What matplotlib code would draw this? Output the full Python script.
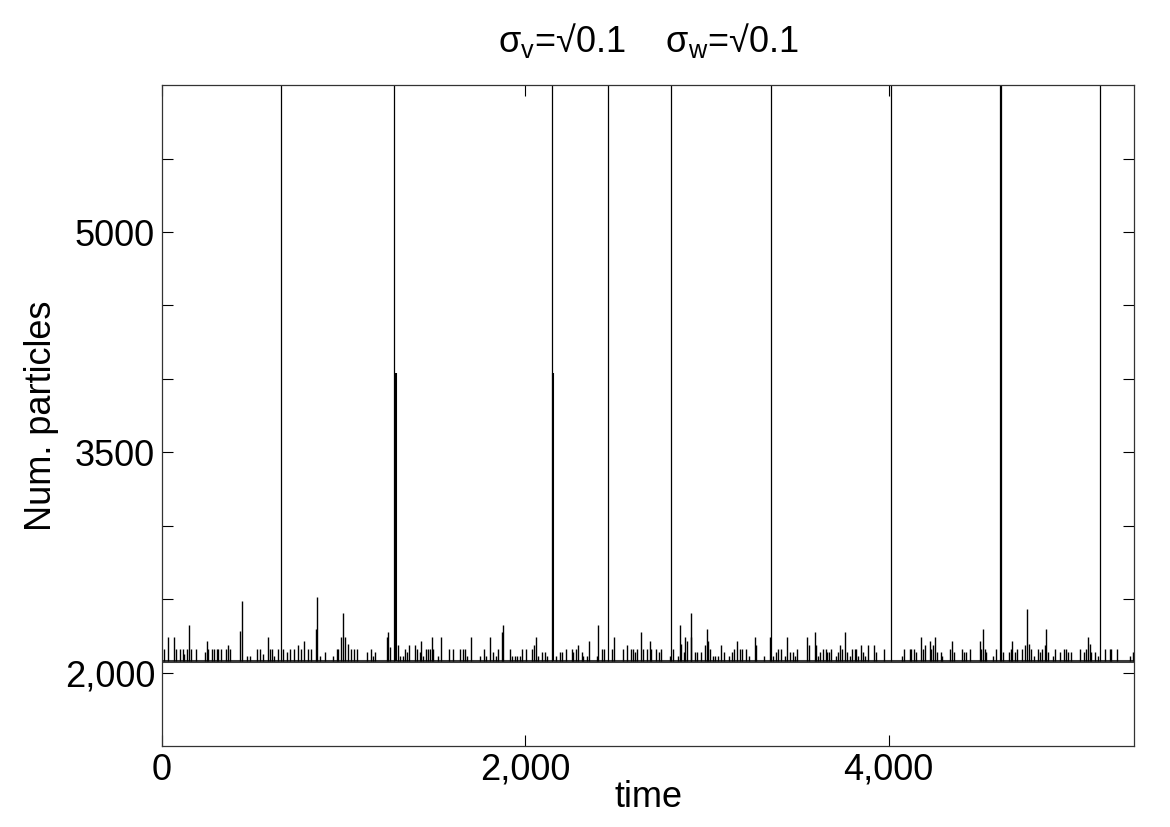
import numpy as np
import matplotlib
matplotlib.use("Agg")
import matplotlib.pyplot as plt

plt.rcParams['font.family'] = ['Liberation Sans', 'DejaVu Sans']
plt.rcParams['mathtext.fontset'] = 'custom'
plt.rcParams['mathtext.rm'] = 'Liberation Sans'
plt.rcParams['mathtext.it'] = 'Liberation Sans'

# Data
baseline = 2080
tall_times = [653, 1278, 2148, 2456, 2804, 3351, 4015, 4613, 4618, 5165]
tall_value = 6500   # clipped above the top of the axes
mid_times = [1286, 2153]
mid_values = [4040, 4040]

spike_times = [
    13, 31, 68, 75, 97, 116, 123, 138, 150, 160, 185, 237, 246, 255, 273, 288,
    301, 310, 325, 350, 361, 374, 429, 442, 466, 484, 521, 539, 558, 581, 594,
    607, 616, 636, 668, 686, 704, 728, 746, 763, 781, 805, 820, 845, 853, 869,
    897, 943, 961, 970, 985, 994, 1007, 1025, 1040, 1058,
    1075, 1126, 1148, 1159, 1172, 1236, 1245, 1254, 1300, 1310, 1324, 1337,
    1346, 1359, 1392, 1401, 1420, 1425, 1438, 1453, 1465, 1475, 1486, 1493,
    1520, 1533, 1581, 1603, 1640, 1654, 1667, 1680, 1698, 1750, 1772, 1783,
    1808, 1823, 1836, 1850, 1869, 1878, 1915, 1929, 1944, 1955, 1970, 1981,
    2006, 2034, 2047, 2061, 2071, 2094, 2107, 2120,
    2166, 2190, 2199, 2226, 2254, 2263, 2276, 2287, 2309, 2318, 2337, 2351,
    2392, 2401, 2423, 2434, 2478, 2487, 2538, 2562, 2580, 2593, 2606, 2612,
    2635, 2648, 2667, 2685, 2694, 2718, 2735, 2745, 2795, 2813, 2841, 2850,
    2859, 2874, 2881, 2892, 2909, 2914, 2933, 2945, 2969, 2988, 2997, 3006,
    3019, 3033, 3046, 3061, 3076, 3092, 3120, 3138, 3149, 3167, 3180, 3193,
    3213, 3232, 3263, 3272, 3312, 3345, 3364, 3382, 3391, 3409, 3428, 3442,
    3455, 3474, 3483, 3497, 3552, 3562, 3593, 3598, 3611, 3624, 3639, 3653,
    3661, 3672, 3685, 3708, 3721, 3734, 3745, 3758, 3771, 3785, 3800, 3813,
    3822, 3831, 3850, 3859, 3868, 3886, 3919, 3928, 3972, 4075, 4082, 4115,
    4125, 4138, 4152, 4180, 4189, 4198, 4226, 4235, 4244, 4253, 4266,
    4286, 4293, 4336, 4348, 4359, 4403, 4414, 4427, 4446, 4501, 4510, 4519,
    4528, 4537, 4574, 4592, 4629, 4660, 4671, 4679, 4693, 4708, 4734, 4748,
    4759, 4770, 4785, 4800, 4822, 4831, 4844, 4858, 4867, 4877, 4904, 4917,
    4941, 4965, 4977, 4987, 5005, 5053, 5075, 5088, 5097, 5106, 5115, 5133,
    5152, 5188, 5216, 5225, 5258, 5326, 5344,
]
spike_values = [
    2161, 2240, 2240, 2161, 2161, 2161, 2127, 2161, 2324, 2161, 2161, 2139, 2217, 2161, 2161, 2161,
    2161, 2161, 2161, 2161, 2188, 2161, 2285, 2489, 2115, 2115, 2161, 2161, 2127, 2240, 2161,
    2161, 2115, 2161, 2161, 2139, 2161, 2161, 2188, 2161, 2217, 2161, 2161, 2296, 2512, 2115,
    2139, 2115, 2161, 2161, 2240, 2405, 2240, 2195, 2161, 2161,
    2161, 2139, 2161, 2115, 2139, 2240, 2274, 2172, 2188, 2115, 2115, 2161,
    2139, 2188, 2188, 2161, 2139, 2217, 2115, 2161, 2161, 2161, 2240, 2161,
    2115, 2240, 2161, 2161, 2161, 2161, 2161, 2115, 2240, 2115, 2161, 2115,
    2240, 2139, 2115, 2161, 2274, 2324, 2161, 2115, 2115, 2115, 2115, 2161,
    2161, 2161, 2188, 2240, 2115, 2139, 2139, 2115,
    2115, 2139, 2139, 2161, 2161, 2139, 2161, 2188, 2139, 2115, 2115, 2217,
    2115, 2324, 2161, 2161, 2161, 2240, 2161, 2188, 2161, 2161, 2139, 2161,
    2274, 2161, 2161, 2217, 2161, 2161, 2139, 2161, 2115, 2161, 2115, 2324,
    2195, 2139, 2240, 2217, 2240, 2405, 2139, 2139, 2139, 2188, 2296, 2217,
    2161, 2115, 2115, 2115, 2188, 2139, 2115, 2139, 2161, 2217, 2161, 2161,
    2161, 2115, 2240, 2188, 2115, 2240, 2115, 2139, 2161, 2161, 2115, 2240,
    2139, 2139, 2115, 2161, 2240, 2188, 2274, 2188, 2115, 2139, 2161, 2161,
    2139, 2139, 2161, 2115, 2139, 2188, 2161, 2274, 2139, 2115, 2161, 2161,
    2161, 2115, 2188, 2139, 2115, 2188, 2188, 2139, 2161, 2115, 2161, 2161,
    2161, 2161, 2139, 2240, 2161, 2188, 2217, 2161, 2188, 2240, 2139,
    2139, 2115, 2161, 2217, 2139, 2161, 2139, 2139, 2161, 2217, 2161, 2296,
    2161, 2139, 2115, 2161, 2139, 2139, 2161, 2217, 2139, 2161, 2161, 2188,
    2432, 2195, 2161, 2115, 2161, 2139, 2161, 2188, 2296, 2139, 2115, 2161,
    2139, 2161, 2161, 2139, 2139, 2161, 2139, 2161, 2240, 2195, 2139, 2139,
    2115, 2161, 2161, 2161, 2161, 2115, 2139,
]

ytick_values = [2000, 2500, 3000, 3500, 4000, 4500, 5000, 5500]
ytick_labels = ['2,000', '', '', '3500', '', '', '5000', '']
xtick_values = [0, 2000, 4000]
xtick_labels = ['0', '2,000', '4,000']

fig = plt.figure(figsize=(11.7, 8.27), dpi=100)
ax = fig.add_axes([0.1385, 0.098, 0.9692 - 0.1385, 0.897 - 0.098])

ax.hlines(baseline, 0, 5350, color='#3a3a3a', lw=2.2)
ax.vlines(spike_times, baseline, spike_values, color='k', lw=1.0)
ax.vlines(mid_times, baseline, mid_values, color='k', lw=1.5)
ax.vlines(tall_times, baseline, tall_value, color='k', lw=0.9)

ax.set_xlim(0, 5350)
ax.set_ylim(1500, 6000)
ax.set_xticks(xtick_values)
ax.set_xticklabels(xtick_labels)
ax.set_yticks(ytick_values)
ax.set_yticklabels(ytick_labels)
ax.tick_params(direction='in', length=8, width=0.8, labelsize=26,
               top=True, right=True, pad=5)
for s in ax.spines.values():
    s.set_linewidth(0.9)
    s.set_color('#333333')

ax.set_xlabel('time', fontsize=26, labelpad=-6)
ax.set_ylabel('Num. particles', fontsize=26, labelpad=4)
ax.set_title(r'$\mathrm{\sigma}_{\mathrm{v}}$=√0.1    $\mathrm{\sigma}_{\mathrm{w}}$=√0.1',
             fontsize=26, pad=24)

fig.savefig('out.png', dpi=100)
